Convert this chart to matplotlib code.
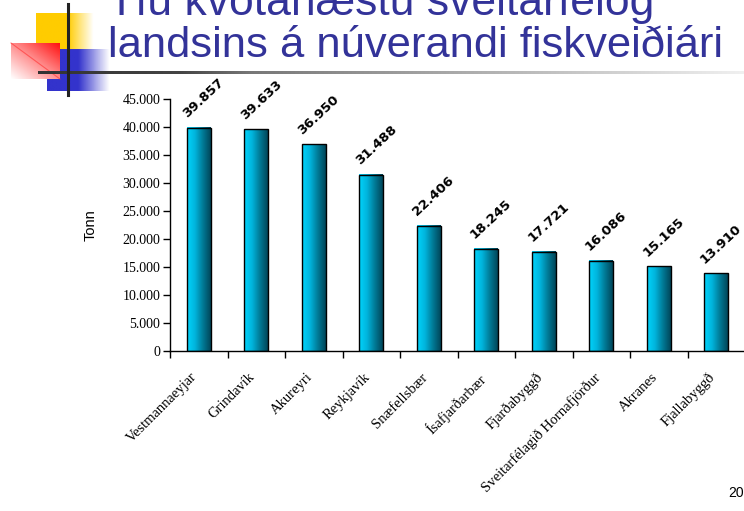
import numpy as np
import matplotlib
matplotlib.use("Agg")
import matplotlib.pyplot as plt
import matplotlib.transforms as mtransforms
from matplotlib.colors import LinearSegmentedColormap

categories = ["Vestmannaeyjar", "Grindavík", "Akureyri", "Reykjavík", "Snæfellsbær",
              "Ísafjarðarbær", "Fjarðabyggð", "Sveitarfélagið Hornafjörður", "Akranes", "Fjallabyggð"]
values = [39857, 39633, 36950, 31488, 22406, 18245, 17721, 16086, 15165, 13910]
value_labels = ["39.857", "39.633", "36.950", "31.488", "22.406", "18.245", "17.721", "16.086", "15.165", "13.910"]
yticks = [0, 5000, 10000, 15000, 20000, 25000, 30000, 35000, 40000, 45000]
ytick_labels = ["0", "5.000", "10.000", "15.000", "20.000", "25.000", "30.000", "35.000", "40.000", "45.000"]
title_line1 = "Tíu kvótahæstu sveitarfélög"
title_line2 = "landsins á núverandi fiskveiðiári"

W, H = 744, 511
fig = plt.figure(figsize=(W / 100, H / 100), dpi=100)

def fx(px):
    return px / W

def fy(py):
    return 1 - py / H

# --- decoration (logo) ---
deco = fig.add_axes([0, 0, 1, 1])
deco.set_xlim(0, W)
deco.set_ylim(H, 0)
deco.axis("off")
yel_cmap = LinearSegmentedColormap.from_list("y", [(0, "#ffcc00"), (0.55, "#ffcc00"), (1, "#ffffff")])
deco.imshow(np.tile(np.linspace(0, 1, 64), (4, 1)), cmap=yel_cmap,
            extent=[36, 94, 62, 13], aspect="auto", zorder=1)
blue_cmap = LinearSegmentedColormap.from_list("b", [(0, "#3333cc"), (0.5, "#3333cc"), (1, "#ffffff")])
deco.imshow(np.tile(np.linspace(0, 1, 64), (4, 1)), cmap=blue_cmap,
            extent=[47, 110, 91, 49], aspect="auto", zorder=2)
gx, gy = np.meshgrid(np.linspace(0, 1, 64), np.linspace(0, 1, 64))
red_cmap = LinearSegmentedColormap.from_list("r", ["#ff1010", "#ff9090", "#ffffff"])
red_img = np.clip(((1 - gx) + gy) / 2, 0, 1)
deco.imshow(red_img, cmap=red_cmap, extent=[11, 60, 79, 43], aspect="auto", zorder=3)
deco.plot([11, 60], [43, 79], color="#ff3030", lw=0.8, alpha=0.6, zorder=3.5)
line_cmap = LinearSegmentedColormap.from_list("l", [(0, "#333333"), (0.2, "#444444"), (0.3, "#777777"), (1, "#f0f0f0")])
deco.imshow(np.tile(np.linspace(0, 1, 256), (2, 1)), cmap=line_cmap,
            extent=[38, 744, 74.0, 71.6], aspect="auto", zorder=4)
deco.plot([68, 68], [4, 95], color="#222222", lw=2.2, zorder=5)

# --- title ---
fig.text(fx(108), fy(15), title_line1, color="#333399", fontsize=32,
         family="Liberation Sans", ha="left", va="baseline")
fig.text(fx(108), fy(57), title_line2, color="#333399", fontsize=31.3,
         family="Liberation Sans", ha="left", va="baseline")
fig.text(fx(744), fy(497), "20", fontsize=10, family="Liberation Sans", ha="right", va="baseline")

# --- chart ---
ax = fig.add_axes([fx(170), fy(351), fx(745) - fx(170), fy(99) - fy(351)])
x = np.arange(len(categories))
bars = ax.bar(x, values, width=0.41, facecolor="none", edgecolor="black", linewidth=1.0, zorder=3)
cmap = LinearSegmentedColormap.from_list("bar", ["#00d4fc", "#00b4dc", "#007a96", "#00465a"])
grad = np.tile(np.linspace(0, 1, 64), (2, 1))
for b in bars:
    x0, w, h = b.get_x(), b.get_width(), b.get_height()
    ax.imshow(grad, cmap=cmap, extent=[x0, x0 + w, 0, h], aspect="auto", zorder=2)

for xi, v, lab in zip(x, values, value_labels):
    ax.text(xi - 0.2, v + 1700, lab, rotation=43, fontsize=9.5, fontweight="bold",
            family="DejaVu Sans", ha="left", va="baseline", rotation_mode="anchor")

ax.set_xlim(-0.5, len(categories) - 0.5)
ax.set_ylim(0, 45000)
ax.set_yticks(yticks)
ax.set_yticklabels(ytick_labels, family="Liberation Serif", fontsize=10)
ax.set_xticks(np.arange(len(categories) + 1) - 0.5)
ax.set_xticklabels([])
ax.set_xticks(x, minor=True)
ax.set_xticklabels(categories, minor=True, rotation=45, ha="right", va="top", rotation_mode="anchor",
                   family="Liberation Serif", fontsize=10.5)
ax.tick_params(axis="x", which="minor", length=0, pad=14)
ax.tick_params(axis="x", which="major", length=5, direction="out", width=1)
ax.tick_params(axis="y", length=5, direction="out", width=1, pad=2)
offset = mtransforms.ScaledTranslation(-8 / 100, 0, fig.dpi_scale_trans)
for lbl in ax.get_xticklabels(minor=True):
    lbl.set_transform(lbl.get_transform() + offset)
for s in ["top", "right"]:
    ax.spines[s].set_visible(False)
ax.spines["left"].set_linewidth(1)
ax.spines["bottom"].set_linewidth(1)
ax.set_ylabel("Tonn", family="Liberation Sans", fontsize=10.5, labelpad=18)
ax.patch.set_alpha(0)

fig.savefig("out.png", dpi=100)
